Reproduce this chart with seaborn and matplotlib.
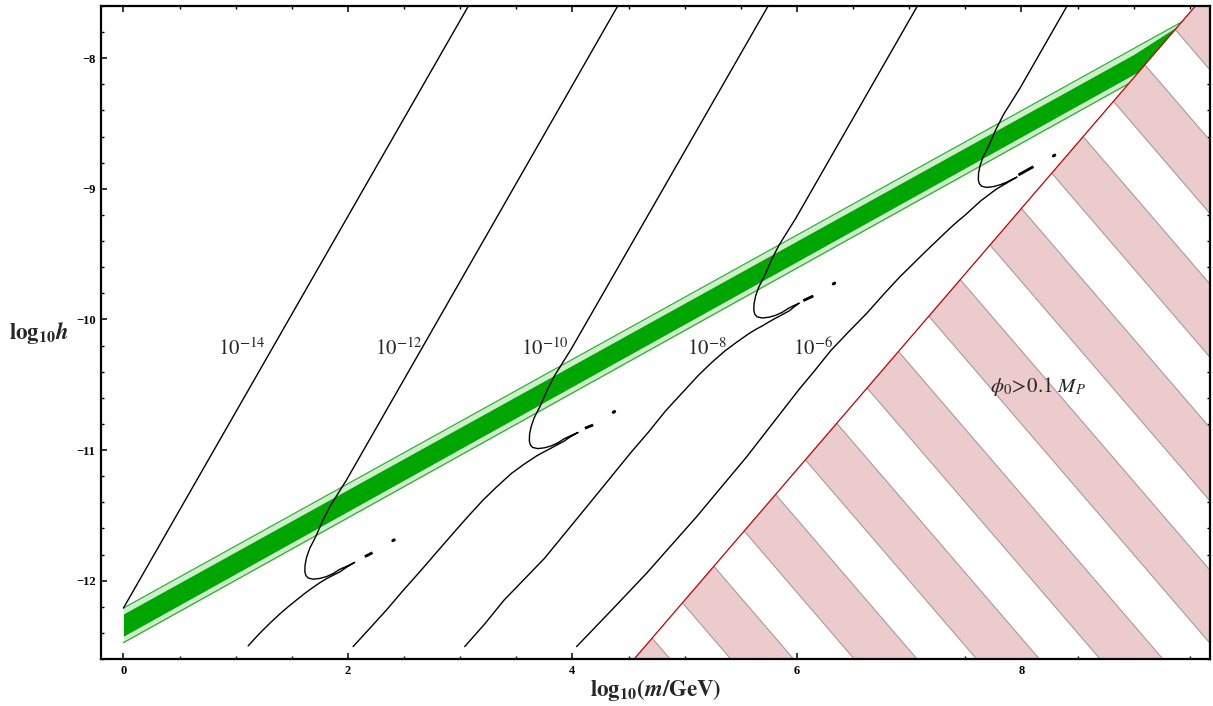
import matplotlib
matplotlib.use("Agg")
import matplotlib.pyplot as plt
from matplotlib.patches import Polygon
from matplotlib.ticker import MultipleLocator
import seaborn as sns

# green band (outer = light, inner = dark)
band_x = [0.0, 9.0, 9.6]
band_top_outer = [-12.21, -7.926, -7.64]
band_top_inner = [-12.255, -7.971, -7.64]
band_low_inner = [-12.425, -8.123, -7.836]
band_low_outer = [-12.475, -8.173, -7.886]

# phi_0 > 0.1 M_P boundary and hatch stripes (in x+y)
boundary_x = [4.15, 10.15]
boundary_y = [-13.0, -7.0]
stripe_starts = [-8.29, -7.19, -6.09, -5.00, -3.90, -2.80, -1.71, -0.61, 0.49, 1.59]
stripe_width = 0.56

# contour curves
c14_x = [0.0, 3.14]
c14_y = [-12.21, -7.50]

c12_x = [4.47, 1.988, 1.839, 1.770, 1.715, 1.660, 1.632, 1.618, 1.616, 1.625, 1.645, 1.690, 1.750, 1.809, 1.870, 1.928, 2.00, 2.06,
         1.99, 1.928, 1.869, 1.809, 1.750, 1.690, 1.615, 1.542, 1.467, 1.393, 1.318, 1.244, 1.176, 1.111]
c12_y = [-7.50, -11.228, -11.433, -11.550, -11.660, -11.752, -11.820, -11.880, -11.931, -11.960, -11.980, -11.989, -11.983, -11.969, -11.945, -11.913, -11.886, -11.86,
         -11.896, -11.933, -11.958, -11.985, -12.016, -12.051, -12.098, -12.148, -12.200, -12.255, -12.315, -12.377, -12.438, -12.500]

c10_x = [5.81, 3.988, 3.839, 3.770, 3.715, 3.660, 3.632, 3.618, 3.616, 3.625, 3.645, 3.690, 3.750, 3.809, 3.870, 3.928, 3.99, 4.05,
         3.98, 3.92, 3.86, 3.80, 3.74, 3.681, 3.57, 3.458, 3.33, 3.205, 3.07, 2.938, 2.79, 2.641, 2.49, 2.344, 2.195, 2.046]
c10_y = [-7.50, -10.228, -10.433, -10.550, -10.660, -10.752, -10.820, -10.880, -10.931, -10.960, -10.980, -10.989, -10.983, -10.969, -10.945, -10.913, -10.888, -10.865,
         -10.900, -10.935, -10.962, -10.99, -11.017, -11.045, -11.108, -11.178, -11.278, -11.382, -11.508, -11.637, -11.783, -11.931, -12.077, -12.224, -12.365, -12.505]

c8_x = [7.14, 5.988, 5.839, 5.770, 5.715, 5.660, 5.632, 5.618, 5.616, 5.625, 5.645, 5.690, 5.750, 5.809, 5.870, 5.928, 5.975, 6.02,
        5.975, 5.93, 5.865, 5.80, 5.745, 5.69, 5.63, 5.57, 5.47, 5.36, 5.24, 5.12, 4.98, 4.83, 4.68, 4.52, 4.34, 4.16, 3.96, 3.75, 3.57, 3.39, 3.22, 3.04]
c8_y = [-7.50, -9.228, -9.433, -9.550, -9.660, -9.752, -9.820, -9.880, -9.931, -9.960, -9.980, -9.989, -9.983, -9.969, -9.945, -9.913, -9.893, -9.875,
        -9.904, -9.935, -9.965, -9.995, -10.022, -10.05, -10.078, -10.11, -10.17, -10.24, -10.33, -10.43, -10.56, -10.70, -10.86, -11.02, -11.21, -11.40, -11.61, -11.83, -11.99, -12.15, -12.33, -12.505]

c6_x = [8.473, 7.988, 7.839, 7.770, 7.715, 7.660, 7.632, 7.618, 7.616, 7.625, 7.645, 7.690, 7.750, 7.809, 7.86, 7.90, 7.93, 7.96,
        7.92, 7.88, 7.83, 7.78, 7.71, 7.64, 7.57, 7.50, 7.43, 7.365, 7.14, 6.919, 6.77, 6.622, 6.46, 6.30, 6.16, 6.015, 5.78, 5.553, 5.33, 5.107, 4.88, 4.661, 4.35, 4.037]
c6_y = [-7.50, -8.228, -8.433, -8.550, -8.660, -8.752, -8.820, -8.880, -8.931, -8.960, -8.980, -8.989, -8.983, -8.969, -8.952, -8.935, -8.922, -8.91,
        -8.93, -8.95, -8.975, -9.00, -9.045, -9.09, -9.145, -9.20, -9.25, -9.30, -9.485, -9.672, -9.81, -9.953, -10.095, -10.24, -10.39, -10.54, -10.80, -11.051, -11.28, -11.510, -11.73, -11.943, -12.225, -12.505]

# broken pieces beyond the cusps
dash_x = [[2.151, 2.219], [4.111, 4.185], [6.057, 6.146], [7.973, 8.107]]
dash_y = [[-11.816, -11.786], [-10.833, -10.808], [-9.856, -9.820], [-8.894, -8.830]]
dot_x = [[2.400, 2.412], [4.364, 4.376], [6.324, 6.336], [8.285, 8.297]]
dot_y = [[-11.694, -11.688], [-10.711, -10.705], [-9.728, -9.722], [-8.748, -8.742]]

labels = ["$10^{-14}$", "$10^{-12}$", "$10^{-10}$", "$10^{-8}$", "$10^{-6}$"]
label_x = [1.052, 2.448, 3.755, 5.196, 6.143]
label_y = -10.272

sns.set_theme(style="ticks")
plt.rcParams["font.family"] = ["Liberation Serif", "DejaVu Serif"]
plt.rcParams["mathtext.fontset"] = "stix"
plt.rcParams["axes.unicode_minus"] = True

fig = plt.figure(figsize=(12.13, 7.06), dpi=100)
ax = fig.add_axes([101 / 1213, 1 - 659 / 706, 1109 / 1213, 653 / 706])
ax.set_xlim(-0.2, 9.68)
ax.set_ylim(-12.6, -7.6)

edge = list(zip(boundary_x, boundary_y))
right_region = Polygon(edge + [(11, -7), (11, -13)], closed=True, fc="none", ec="none",
                       transform=ax.transData)
left_region = Polygon(edge + [(-1, -7), (-1, -13)], closed=True, fc="none", ec="none",
                      transform=ax.transData)
ax.add_patch(right_region)
ax.add_patch(left_region)

# hatched excluded region
for a in stripe_starts:
    st = Polygon([(a + 13, -13), (a + stripe_width + 13, -13), (a + stripe_width + 7, -7), (a + 7, -7)],
                 closed=True, fc="#EBCBCB", ec="#A99A9A", lw=0.8, zorder=1)
    ax.add_patch(st)
    st.set_clip_path(right_region)

ax.plot(boundary_x, boundary_y, color="#C00000", lw=0.9, zorder=3)

# green band
light = ax.fill_between(band_x, band_low_outer, band_top_outer, color="#CDEDCD", lw=0, zorder=2)
dark = ax.fill_between(band_x, band_low_inner, band_top_inner, color="#00A600", lw=0, zorder=2)
light.set_clip_path(left_region)
dark.set_clip_path(left_region)
for yy in (band_top_outer, band_low_outer):
    ln, = ax.plot(band_x, yy, color="#2FAF2F", lw=0.9, zorder=2)
    ln.set_clip_path(left_region)

# contours
for cx, cy in [(c14_x, c14_y), (c12_x, c12_y), (c10_x, c10_y), (c8_x, c8_y), (c6_x, c6_y)]:
    sns.lineplot(x=cx, y=cy, sort=False, estimator=None, color="black", lw=1.0, ax=ax, zorder=4)
for dx, dy in zip(dash_x, dash_y):
    ax.plot(dx, dy, color="black", lw=2.0, solid_capstyle="butt", zorder=4)
for dx, dy in zip(dot_x, dot_y):
    ax.plot(dx, dy, color="black", lw=2.2, zorder=4)

for t, lx in zip(labels, label_x):
    ax.text(lx, label_y, t, ha="center", va="baseline", fontsize=15, zorder=5)
ax.text(8.145, -10.553, r"$\phi_0\!>\!0.1\ M_P$", ha="center", va="baseline", fontsize=15, zorder=5)

# axes styling
ax.xaxis.set_major_locator(MultipleLocator(2))
ax.xaxis.set_minor_locator(MultipleLocator(0.5))
ax.yaxis.set_major_locator(MultipleLocator(1))
ax.yaxis.set_minor_locator(MultipleLocator(0.2))
ax.tick_params(which="both", direction="in", top=True, right=True, colors="black")
ax.tick_params(which="major", length=4.5, width=1.1, labelsize=9, pad=4)
ax.tick_params(which="minor", length=2.5, width=1.0)
for lab in ax.get_xticklabels() + ax.get_yticklabels():
    lab.set_fontweight("bold")
for sp in ax.spines.values():
    sp.set_linewidth(1.6)
    sp.set_color("black")
    sp.set_zorder(6)

ax.set_xlabel(r"$\mathbf{log_{10}(}\mathbfit{m}\mathbf{/GeV)}$", fontsize=16.5, va="center")
ax.set_ylabel(r"$\mathbf{log_{10}}\mathbfit{h}$", fontsize=16.5, rotation=0, va="center", ha="center")
ax.xaxis.set_label_coords(0.5, -0.047)
ax.yaxis.set_label_coords(-0.056, 0.5)

fig.savefig("out.png", dpi=100)
